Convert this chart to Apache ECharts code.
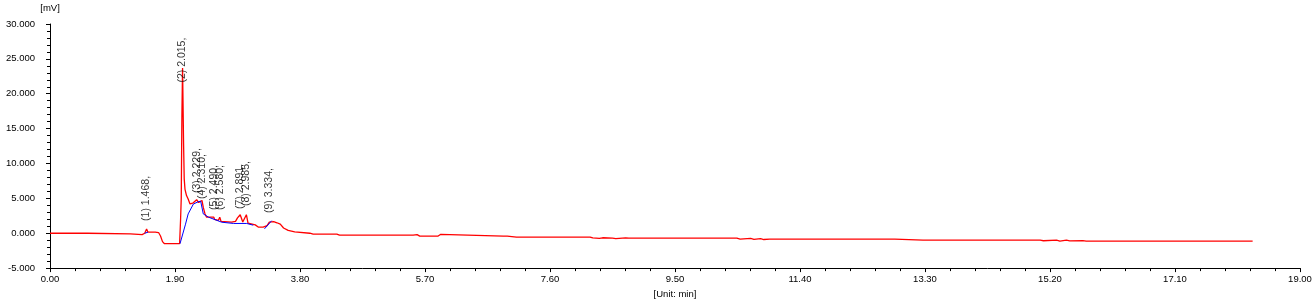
<!DOCTYPE html>
<html>
<head>
<meta charset="utf-8">
<script src="https://cdn.jsdelivr.net/npm/echarts@6/dist/echarts.min.js"></script>
<style>
html,body{margin:0;padding:0;background:#fff;}
#chart{width:1316px;height:304px;}
</style>
</head>
<body>
<div id="chart"></div>
<script>
// Chromatogram signal (red trace)
var traceTime = [0, 0.57, 0.58, 1.22, 1.23, 1.40, 1.44, 1.468, 1.49, 1.60, 1.65, 1.68, 1.71, 1.74, 1.97,
  1.985, 1.995, 2.005, 2.015, 2.03, 2.04, 2.052, 2.075, 2.10, 2.128, 2.17, 2.229, 2.26, 2.31, 2.33, 2.355, 2.38,
  2.45, 2.48, 2.49, 2.50, 2.53, 2.56, 2.58, 2.60, 2.62, 2.76, 2.79, 2.82, 2.85, 2.891, 2.93, 2.96, 2.985, 3.01,
  3.04, 3.12, 3.17, 3.24, 3.27, 3.30, 3.334, 3.40, 3.45, 3.50, 3.55, 3.62, 3.72, 3.75, 3.95, 4.0, 4.36, 4.40,
  5.52, 5.55, 5.58, 5.62, 5.90, 5.94, 5.97, 6.89, 6.92, 6.95, 7.09, 8.21, 8.25, 8.35, 8.40, 8.55, 8.60, 8.75,
  8.80, 10.44, 10.49, 10.65, 10.70, 10.80, 10.85, 10.94, 12.84, 12.86, 13.27, 13.28, 13.30, 14.87, 14.90,
  15.05, 15.10, 15.30, 15.35, 15.45, 15.50, 15.70, 15.75, 15.93, 18.28];
var traceSignal = [0.0, 0.0, -0.08, -0.08, -0.2, -0.2, 0.0, 0.6, 0.15, 0.15, 0.1, -0.4, -1.2, -1.5, -1.5,
  2.0, 5.0, 17.0, 23.7, 13.0, 7.8, 6.3, 5.4, 4.9, 4.2, 4.3, 4.8, 4.4, 4.7, 3.7, 2.8, 2.3,
  2.3, 2.05, 2.3, 2.0, 1.8, 1.85, 2.3, 1.7, 1.58, 1.58, 1.5, 1.7, 2.2, 2.65, 1.6, 1.7, 2.65, 1.45,
  1.2, 1.2, 0.87, 0.87, 0.63, 1.1, 1.6, 1.67, 1.5, 1.3, 0.75, 0.4, 0.2, 0.0, 0.0, -0.13, -0.13, -0.27,
  -0.27, -0.41, -0.2, -0.41, -0.41, -0.15, -0.41, -0.41, -0.5, -0.41, -0.55, -0.55, -0.68, -0.75, -0.65, -0.7, -0.78, -0.68,
  -0.7, -0.7, -0.85, -0.75, -0.88, -0.78, -0.9, -0.85, -0.85, -0.99, -0.99, -0.9, -0.99, -0.99, -1.1,
  -1.0, -1.08, -1.0, -1.12, -1.0, -1.1, -1.05, -1.12, -1.13, -1.13];

// Integration baselines (blue), null separates segments
var baseTime =   [1.44, 1.49, null, 1.976, 2.06, 2.10, 2.18, 2.25, 2.29, 2.33, 2.41, 2.61, 2.79, 2.99, 3.09, null, 3.26, 3.37];
var baseSignal = [0.0, 0.15, null, -1.5, 1.3, 2.77, 4.19, 4.5, 4.6, 2.77, 2.3, 1.58, 1.4, 1.4, 1.15, null, 0.63, 1.8];

// Peak annotations
var peakNumbers = [1, 2, 3, 4, 5, 6, 7, 8, 9];
var peakTimes = [1.468, 2.015, 2.229, 2.310, 2.490, 2.580, 2.891, 2.985, 3.334];
var peakLabelLevels = [1.77, 21.6, 5.76, 4.9, 3.34, 3.34, 3.48, 3.9, 2.9];

// Axis ticks
var xTickMin = 0, xTickMax = 19, xTickStep = 1.9;
var yTickMin = -5, yTickMax = 30, yTickStep = 5;

var FONT = '"Liberation Sans", Arial, sans-serif';

var trace = traceTime.map(function (t, i) { return [t, traceSignal[i]]; });

var baseSeries = [];
var seg = [];
for (var i = 0; i <= baseTime.length; i++) {
  if (i === baseTime.length || baseTime[i] === null) {
    if (seg.length) {
      baseSeries.push({
        type: 'line', data: seg, symbol: 'none', silent: true, z: 3,
        lineStyle: { color: '#0000ff', width: 1 }
      });
    }
    seg = [];
  } else {
    seg.push([baseTime[i], baseSignal[i]]);
  }
}

var labelData = peakTimes.map(function (t, i) {
  return { value: [t, peakLabelLevels[i]], name: '(' + peakNumbers[i] + ') ' + t.toFixed(3) + ',' };
});

var chart = echarts.init(document.getElementById('chart'), null, { renderer: 'canvas' });
chart.setOption({
  animation: false,
  backgroundColor: '#ffffff',
  textStyle: { fontFamily: FONT },
  grid: { left: 50, right: 16, top: 24, bottom: 34.5, containLabel: false },
  xAxis: {
    type: 'value', min: xTickMin, max: xTickMax, interval: xTickStep,
    name: '[Unit: min]', nameLocation: 'middle', nameGap: 18,
    nameTextStyle: { color: '#000', fontSize: 9.5, fontFamily: FONT },
    axisLine: { show: true, onZero: false, lineStyle: { color: '#000', width: 1 } },
    axisTick: { show: true, length: 4, lineStyle: { color: '#000' } },
    minorTick: { show: true, splitNumber: 5, length: 3, lineStyle: { color: '#000' } },
    splitLine: { show: false },
    axisLabel: { color: '#000', fontSize: 9.5, fontFamily: FONT, margin: 6,
      formatter: function (v) { return v.toFixed(2); } }
  },
  yAxis: {
    type: 'value', min: yTickMin, max: yTickMax, interval: yTickStep,
    name: '[mV]', nameLocation: 'end', nameGap: 11,
    nameTextStyle: { color: '#000', fontSize: 9.5, fontFamily: FONT, align: 'center' },
    axisLine: { show: true, onZero: false, lineStyle: { color: '#000', width: 1 } },
    axisTick: { show: true, length: 4, lineStyle: { color: '#000' } },
    minorTick: { show: true, splitNumber: 5, length: 3, lineStyle: { color: '#000' } },
    splitLine: { show: false },
    axisLabel: { color: '#000', fontSize: 9.5, fontFamily: FONT, margin: 15,
      formatter: function (v) { return v.toFixed(3); } }
  },
  series: [{
    type: 'line', data: trace, symbol: 'none', silent: true, z: 2,
    lineStyle: { color: '#ff0000', width: 1.3 }
  }].concat(baseSeries).concat([{
    type: 'scatter', data: labelData, symbolSize: 0, silent: true, z: 5,
    label: {
      show: true, position: 'inside', rotate: 90, align: 'left', verticalAlign: 'middle',
      color: '#000', fontSize: 10.5, fontFamily: FONT,
      formatter: function (p) { return p.name; }
    }
  }])
});
</script>
</body>
</html>
